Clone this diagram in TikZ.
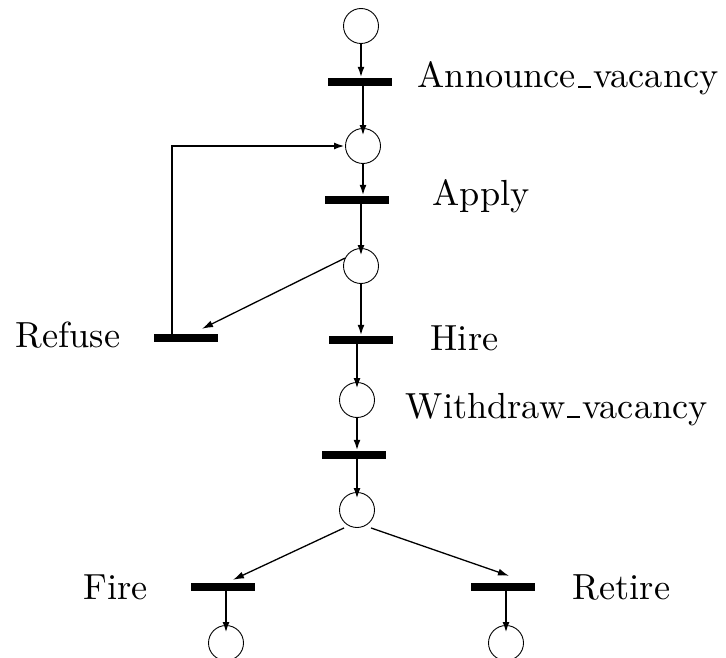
\documentclass[tikz,border=0pt]{standalone}
\usetikzlibrary{arrows.meta}
% baseline underscore in the classic plain-TeX style
\newcommand\usc{\leavevmode\kern.06em\vbox{\hrule width.36em height.6pt}\kern.06em}
\tikzset{
  place/.style={circle,draw,line width=0.9pt,minimum size=35pt,inner sep=0pt},
  trans/.style={fill=black,minimum width=64pt,minimum height=8pt,inner sep=0pt},
  lbl/.style={anchor=base west,inner sep=0pt,scale=3.63},
  arc/.style={line width=2.8pt,-{Latex[length=11pt,width=7pt]}},
  thinarc/.style={line width=1.3pt,-{Latex[length=11pt,width=7pt]}},
}
\begin{document}
\begin{tikzpicture}[x=1pt,y=-1pt]
\useasboundingbox (0,0) rectangle (726,658);

% places and transitions
\node[place] (p1) at (361,26) {};
\node[trans] (t1) at (360,82) {};
\node[place] (p2) at (363,146) {};
\node[trans] (t2) at (357,200) {};
\node[place] (p3) at (361,266) {};
\node[trans] (t3) at (361,340) {};
\node[trans] (t5) at (186,338) {};
\node[place] (p4) at (357,400) {};
\node[trans] (t4) at (354,455) {};
\node[place] (p5) at (357,510) {};
\node[trans] (t6) at (223,587) {};
\node[trans] (t7) at (503,587) {};
\node[place] (p6) at (226,643) {};
\node[place] (p7) at (506,643) {};

% labels
\node[lbl] (l1) at (417,88) {Announce\usc vacancy};
\node[lbl] (l2) at (432,206) {Apply};
\node[lbl] (l3) at (15,347) {Refuse};
\node[lbl] (l4) at (430,350) {Hire};
\node[lbl] (l5) at (405,418) {Withdraw\usc vacancy};
\node[lbl] (l6) at (83,599) {Fire};
\node[lbl] (l7) at (572,599) {Retire};

% main flow
\draw[arc] (p1.south) -- (p1.south |- t1.north);
\draw[arc] (t1.south -| p2) -- ([yshift=-8pt]p2.north);
\draw[arc] (p2.south) -- (p2.south |- t2.north);
\draw[arc] (t2.south -| p3) -- ([yshift=-8pt]p3.north);
\draw[arc] (p3.south) -- (p3.south |- t3.north);
\draw[arc] (t3.south -| p4) -- ([yshift=-7pt]p4.north);
\draw[arc] (p4.south) -- (p4.south |- t4.north);
\draw[arc] (t4.south -| p5) -- ([yshift=-7pt]p5.north);
\draw[arc] (t6.south -| p6) -- ([yshift=-8pt]p6.north);
\draw[arc] (t7.south -| p7) -- ([yshift=-8pt]p7.north);

% refusal loop
\draw[thinarc] (p3.154) -- ([xshift=16pt,yshift=5pt]t5.north);
\draw[arc] ([xshift=-14pt]t5.north) |- (p2.west);

% branches to Fire and Retire
\draw[thinarc] ([xshift=-13pt]p5.south) -- ([xshift=10pt,yshift=3pt]t6.north);
\draw[thinarc] ([xshift=14pt]p5.south) -- ([xshift=6pt,yshift=7pt]t7.north);
\end{tikzpicture}
\end{document}
